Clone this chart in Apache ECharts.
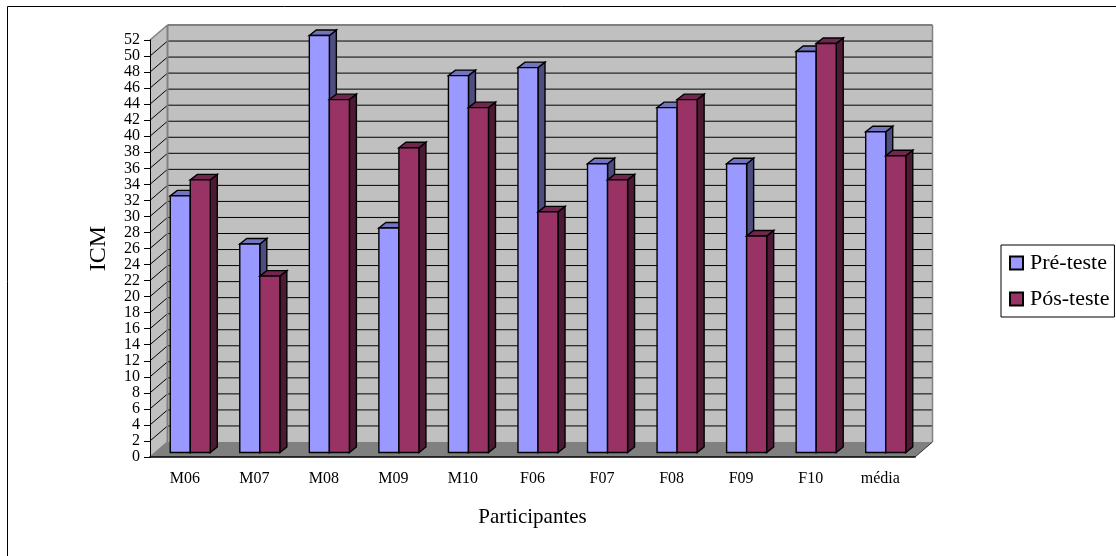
<!DOCTYPE html>
<html>
<head>
<meta charset="utf-8">
<style>html,body{margin:0;padding:0;background:#fff}#chart{width:1116px;height:556px}</style>
<script src="https://cdn.jsdelivr.net/npm/echarts@6/dist/echarts.min.js"></script>
</head>
<body>
<div id="chart"></div>
<script>
const categories = ['M06','M07','M08','M09','M10','F06','F07','F08','F09','F10','média'];
const preTest = [32,26,52,28,47,48,36,43,36,50,40];
const postTest = [34,22,44,38,43,30,34,44,27,51,37];
const yTicks = [2,4,6,8,10,12,14,16,18,20,22,24,26,28,30,32,34,36,38,40,42,44,46,48,50];

const FONT = '"Liberation Serif","Times New Roman",serif';
// Oblique projection: how far the back wall and the bars sit from the front plane
const WALL = [17.5, -15];
const BAR_FRONT = [5.5, -4.5];
const BAR_DEPTH = [7, -5.5];
const BAR_SHARE = 0.288;

const poly = (points, fill, stroke, lineWidth) => ({
  type: 'polygon',
  shape: { points },
  style: { fill, stroke: stroke || null, lineWidth: lineWidth || 0 }
});
const seg = (a, b, stroke, lineWidth) => ({
  type: 'line',
  shape: { x1: a[0], y1: a[1], x2: b[0], y2: b[1] },
  style: { stroke, lineWidth }
});
const shift = (p, d) => [p[0] + d[0], p[1] + d[1]];

// Back wall, side wall, floor and the gridlines that fold across both walls
function renderWalls(params, api) {
  const cs = params.coordSys;
  const left = cs.x, right = cs.x + cs.width;
  const y0 = api.coord([0, 0])[1], yTop = cs.y;
  const fl = [left, y0], fr = [right, y0], tl = [left, yTop];
  const bl = shift(fl, WALL), br = shift(fr, WALL), btl = shift(tl, WALL);
  const btr = [br[0], btl[1]];
  const children = [
    poly([fl, tl, btl, bl], '#c0c0c0'),
    poly([bl, btl, btr, br], '#c0c0c0'),
    poly([fl, bl, br, fr], '#808080')
  ];
  yTicks.forEach(t => {
    const a = [left, api.coord([0, t])[1]];
    const b = shift(a, WALL);
    children.push(seg(a, b, '#000', 1));
    children.push(seg(b, [br[0], b[1]], '#000', 1));
  });
  children.push(seg(tl, btl, '#808080', 1.5));
  children.push(seg(btl, btr, '#808080', 2));
  children.push(seg(btl, bl, '#808080', 2));
  children.push(seg(btr, br, '#808080', 1.5));
  children.push(seg(fl, bl, '#808080', 1.5));
  children.push(seg(fr, br, '#333', 1));
  return { type: 'group', children };
}

// One shaded box per value; slot -1 is left of the band centre, slot 0 right of it
function barRenderer(slot, front, top, side) {
  return function (params, api) {
    const i = api.value(0);
    const band = api.size([1, 0])[0];
    const w = band * BAR_SHARE;
    const c = api.coord([i, api.value(1)]);
    const b = api.coord([i, 0]);
    const x0 = c[0] + slot * w + BAR_FRONT[0];
    const x1 = x0 + w;
    const yT = c[1] + BAR_FRONT[1];
    const yB = b[1] + BAR_FRONT[1];
    const tl = [x0, yT], tr = [x1, yT], br = [x1, yB], bl = [x0, yB];
    const s = { stroke: '#000', lw: 1.4 };
    return {
      type: 'group',
      children: [
        poly([tr, br, shift(br, BAR_DEPTH), shift(tr, BAR_DEPTH)], side, s.stroke, s.lw),
        poly([tl, tr, shift(tr, BAR_DEPTH), shift(tl, BAR_DEPTH)], top, s.stroke, s.lw),
        poly([tl, tr, br, bl], front, s.stroke, s.lw)
      ]
    };
  };
}

function barSeries(name, values, slot, front, top, side) {
  return {
    name,
    type: 'custom',
    coordinateSystem: 'cartesian2d',
    data: values.map((v, i) => [i, v]),
    encode: { x: 0, y: 1 },
    itemStyle: { color: front, borderColor: '#000', borderWidth: 1.4 },
    renderItem: barRenderer(slot, front, top, side),
    clip: false,
    silent: true
  };
}

const chart = echarts.init(document.getElementById('chart'), null, { renderer: 'canvas' });
chart.setOption({
  animation: false,
  backgroundColor: '#fff',
  textStyle: { fontFamily: FONT, color: '#000' },
  grid: { left: 150, top: 40, width: 765, height: 417 },
  xAxis: {
    type: 'category',
    data: categories,
    name: 'Participantes',
    nameLocation: 'middle',
    nameGap: 50,
    nameTextStyle: { fontFamily: FONT, fontSize: 21, color: '#000' },
    axisLine: { lineStyle: { color: '#000', width: 1.5 } },
    axisTick: { length: 6, lineStyle: { color: '#000' } },
    axisLabel: { fontFamily: FONT, fontSize: 16, color: '#000', margin: 14, interval: 0 },
    splitLine: { show: false },
    z: 10
  },
  yAxis: {
    type: 'value',
    min: 0,
    max: 52,
    interval: 2,
    name: 'ICM',
    nameLocation: 'middle',
    nameGap: 39,
    nameTextStyle: { fontFamily: FONT, fontSize: 24, color: '#000' },
    axisLine: { show: true, lineStyle: { color: '#000', width: 1 } },
    axisTick: { show: true, length: 6, lineStyle: { color: '#000' } },
    axisLabel: { fontFamily: FONT, fontSize: 16, color: '#000', margin: 10, showMinLabel: true, showMaxLabel: true, hideOverlap: false },
    splitLine: { show: false },
    z: 10
  },
  legend: {
    orient: 'vertical',
    left: 1001,
    top: 245,
    padding: [7, 5, 7, 8],
    itemGap: 14,
    itemWidth: 13,
    itemHeight: 13,
    icon: 'rect',
    selectedMode: false,
    backgroundColor: '#fff',
    borderColor: '#000',
    borderWidth: 1,
    data: ['Pré-teste', 'Pós-teste'],
    textStyle: { fontFamily: FONT, fontSize: 22, color: '#000', padding: [0, 0, 0, 2] }
  },
  graphic: [
    { type: 'line', z: 50, silent: true, shape: { x1: 7.5, y1: 6.5, x2: 1116, y2: 6.5 }, style: { stroke: '#000', lineWidth: 1 } },
    { type: 'line', z: 50, silent: true, shape: { x1: 7.5, y1: 6.5, x2: 7.5, y2: 556 }, style: { stroke: '#000', lineWidth: 1 } }
  ],
  series: [
    {
      type: 'custom',
      coordinateSystem: 'cartesian2d',
      data: [[0, 0]],
      encode: { x: 0, y: 1 },
      renderItem: renderWalls,
      clip: false,
      silent: true,
      z: 1
    },
    Object.assign(barSeries('Pré-teste', preTest, -1, '#9999ff', '#7373bf', '#4d4d80'), { z: 2 }),
    Object.assign(barSeries('Pós-teste', postTest, 0, '#993366', '#73264d', '#4d1a33'), { z: 3 })
  ]
});
</script>
</body>
</html>
